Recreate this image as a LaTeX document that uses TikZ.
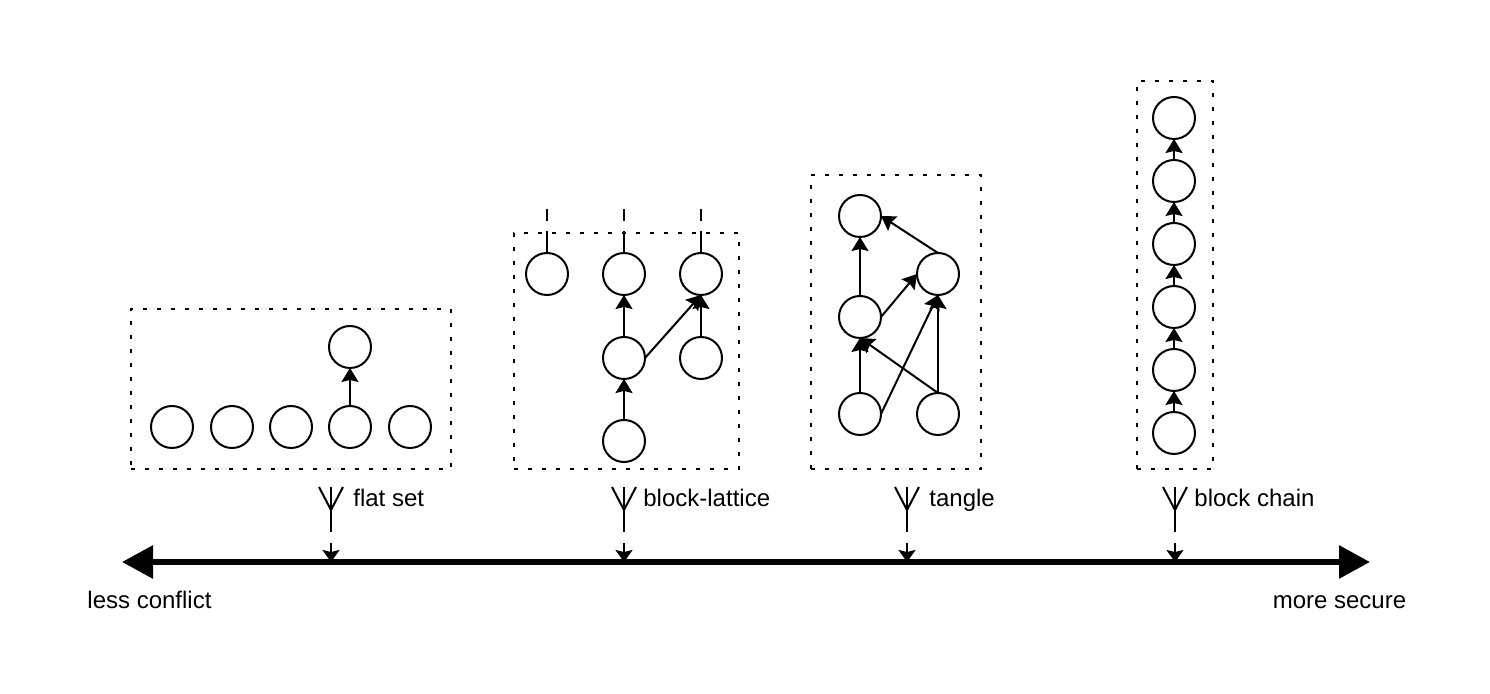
\documentclass[tikz,border=0pt]{standalone}
\usepackage{fontspec}
\setmainfont{Liberation Sans}
\usetikzlibrary{arrows.meta}
\tikzset{
  block/.style={circle, draw, line width=1pt, minimum size=21pt, inner sep=0pt, outer sep=0pt},
  groupbox/.style={rectangle, draw, line width=1pt, inner sep=0pt, outer sep=0pt, dash pattern=on 2pt off 5pt},
  link/.style={-{Stealth[length=7pt, width=8.5pt, inset=1pt]}, line width=1pt},
  stub/.style={line width=1pt, dash pattern=on 11pt off 5pt on 6pt off 100pt},
  pointer/.style={-{Stealth[length=6pt, width=8.5pt, inset=1pt]}, line width=1pt, dash pattern=on 22.5pt off 5.5pt on 100pt off 0pt},
  prong/.style={line width=1pt},
  axis/.style={{Triangle[length=15.5pt, width=16pt]}-{Triangle[length=15.5pt, width=16pt]}, line width=3pt},
  label/.style={anchor=base west, inner sep=0pt, font=\fontsize{12}{14}\selectfont},
  endlabel/.style={anchor=base, inner sep=0pt, font=\fontsize{12}{14}\selectfont}
}
\begin{document}
\begin{tikzpicture}[x=0.5pt, y=-0.5pt]
  \useasboundingbox (0, 0) rectangle (1490, 694);

  % Axis
  \coordinate (axisL) at (122, 562);
  \coordinate (axisR) at (1370, 562);
  \draw[axis] (axisL) -- (axisR);
  \node[endlabel] (conflict) at (149.5, 609) {less conflict};
  \node[endlabel] (secure) at (1339.5, 609) {more secure};

  % Flat set
  \node[groupbox, minimum width=160pt, minimum height=80pt] (flatbox) at (291, 389) {};
  \node[block] (f1) at (172, 427) {};
  \node[block] (f2) at (232, 427) {};
  \node[block] (f3) at (291, 427) {};
  \node[block] (f4) at (350, 427) {};
  \node[block] (f5) at (410, 427) {};
  \node[block] (f6) at (350, 347) {};
  \draw[link] (f4) -- (f6);

  % Block-lattice
  \node[groupbox, minimum width=112.5pt, minimum height=118pt] (latticebox) at (626.5, 351) {};
  \node[block] (l1) at (547, 274) {};
  \node[block] (l2) at (624, 274) {};
  \node[block] (l3) at (701, 274) {};
  \node[block] (l4) at (624, 358) {};
  \node[block] (l5) at (701, 358) {};
  \node[block] (l6) at (624, 441) {};
  \draw[link] (l6) -- (l4);
  \draw[link] (l4) -- (l2);
  \draw[link] (l5) -- (l3);
  \draw[link] (l4.east) -- (l3.south);
  \coordinate (t1) at (547, 209);
  \coordinate (t2) at (624, 209);
  \coordinate (t3) at (701, 209);
  \draw[stub] (l1.north) -- (t1);
  \draw[stub] (l2.north) -- (t2);
  \draw[stub] (l3.north) -- (t3);

  % Tangle
  \node[groupbox, minimum width=85pt, minimum height=147pt] (tanglebox) at (896, 322) {};
  \node[block] (g1) at (860, 216) {};
  \node[block] (g2) at (938, 274) {};
  \node[block] (g3) at (860, 317) {};
  \node[block] (g4) at (860, 414) {};
  \node[block] (g5) at (938, 414) {};
  \draw[link] (g3) -- (g1);
  \draw[link] (g2.north) -- (g1.east);
  \draw[link] (g3.east) -- (g2.west);
  \draw[link] (g4) -- (g3);
  \draw[link] (g4.east) -- (g2.south);
  \draw[link] (g5) -- (g2);
  \draw[link] (g5.north) -- (g3.south);

  % Block chain
  \node[groupbox, minimum width=38pt, minimum height=194pt] (chainbox) at (1175, 275) {};
  \node[block] (c1) at (1174, 118) {};
  \node[block] (c2) at (1174, 181) {};
  \node[block] (c3) at (1174, 244) {};
  \node[block] (c4) at (1174, 307) {};
  \node[block] (c5) at (1174, 370) {};
  \node[block] (c6) at (1174, 433) {};
  \draw[link] (c6) -- (c5);
  \draw[link] (c5) -- (c4);
  \draw[link] (c4) -- (c3);
  \draw[link] (c3) -- (c2);
  \draw[link] (c2) -- (c1);

  % Pointers to the axis
  \coordinate (a1) at (331, 487);
  \coordinate (a1m) at (331, 510);
  \coordinate (a1l) at (319, 487);
  \coordinate (a1r) at (343, 487);
  \coordinate (p1) at (331, 562);
  \draw[prong] (a1l) -- (a1m) -- (a1r);
  \draw[pointer] (a1) -- (p1);
  \node[label] (flat) at (353, 507) {flat set};

  \coordinate (a2) at (624, 487);
  \coordinate (a2m) at (624, 510);
  \coordinate (a2l) at (612, 487);
  \coordinate (a2r) at (636, 487);
  \coordinate (p2) at (624, 562);
  \draw[prong] (a2l) -- (a2m) -- (a2r);
  \draw[pointer] (a2) -- (p2);
  \node[label] (lattice) at (643, 507) {block-lattice};

  \coordinate (a3) at (907, 487);
  \coordinate (a3m) at (907, 510);
  \coordinate (a3l) at (895, 487);
  \coordinate (a3r) at (919, 487);
  \coordinate (p3) at (907, 562);
  \draw[prong] (a3l) -- (a3m) -- (a3r);
  \draw[pointer] (a3) -- (p3);
  \node[label] (tangle) at (929, 507) {tangle};

  \coordinate (a4) at (1175, 487);
  \coordinate (a4m) at (1175, 510);
  \coordinate (a4l) at (1163, 487);
  \coordinate (a4r) at (1187, 487);
  \coordinate (p4) at (1175, 562);
  \draw[prong] (a4l) -- (a4m) -- (a4r);
  \draw[pointer] (a4) -- (p4);
  \node[label] (chain) at (1194, 507) {block chain};
\end{tikzpicture}
\end{document}
